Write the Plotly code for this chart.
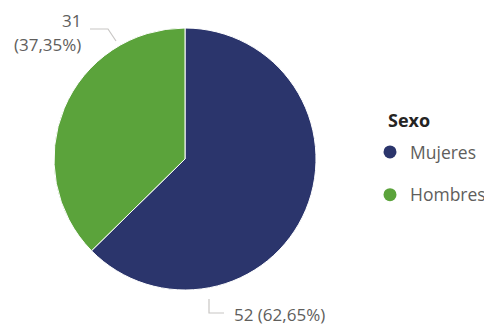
import plotly.graph_objects as go

labels = ["Mujeres", "Hombres"]
values = [52, 31]
colors = ["#2b356c", "#5ba33b"]
legend_title = "Sexo"

# The page body keeps an 8 px margin, so the figure is 8 px smaller each way
# and reference pixel positions are shifted by 8 px.
OFF = 8
W, H = 492 - OFF, 329 - OFF
def px(x, y):
    return (x - OFF) / W, 1 - (y - OFF) / H

total = sum(values)
pct = [v / total * 100 for v in values]
fmt = lambda p: f"{p:.2f}".replace(".", ",")

fig = go.Figure()
x0, y0 = px(54, 298)
x1, y1 = px(316, 20)
fig.add_trace(go.Pie(
    labels=labels, values=values, sort=False, direction="clockwise", rotation=0,
    marker=dict(colors=colors, line=dict(color="white", width=1)),
    textinfo="none", showlegend=False, hoverinfo="label+value+percent",
    domain=dict(x=[x0, x1], y=[y0, y1]),
))
for lab, col in zip(labels, colors):
    fig.add_trace(go.Scatter(
        x=[None], y=[None], mode="markers", name=lab, legendgroup=lab,
        marker=dict(color=col, size=13, symbol="circle"),
    ))

lab_font = dict(family="Open Sans", size=17, color="#605e5c")
annots = []
x, y = px(83, 20)
annots.append(dict(x=x, y=y, xref="paper", yref="paper", text=str(values[1]),
                   xanchor="right", yanchor="middle", showarrow=False, font=lab_font))
x, y = px(83, 44)
annots.append(dict(x=x, y=y, xref="paper", yref="paper", text=f"({fmt(pct[1])}%)",
                   xanchor="right", yanchor="middle", showarrow=False, font=lab_font))
x, y = px(232, 314)
annots.append(dict(x=x, y=y, xref="paper", yref="paper", text=f"{values[0]} ({fmt(pct[0])}%)",
                   xanchor="left", yanchor="middle", showarrow=False, font=lab_font))
x, y = px(386, 120)
annots.append(dict(x=x, y=y, xref="paper", yref="paper", text=f"<b>{legend_title}</b>",
                   xanchor="left", yanchor="middle", showarrow=False,
                   font=dict(family="Open Sans", size=18, color="#252423")))

def path(pts):
    s = ""
    for i, (a, b) in enumerate(pts):
        xx, yy = px(a, b)
        s += ("M" if i == 0 else "L") + f"{xx},{yy} "
    return s.strip()

shapes = [
    dict(type="path", xref="paper", yref="paper", path=path([(90, 29), (108, 29), (116, 41)]),
         line=dict(color="#c8c6c4", width=1.2)),
    dict(type="path", xref="paper", yref="paper", path=path([(209, 299), (209, 313), (224, 313)]),
         line=dict(color="#c8c6c4", width=1.2)),
]

lx, ly = px(370, 134)
fig.update_layout(
    width=W, height=H, margin=dict(l=0, r=0, t=0, b=0),
    paper_bgcolor="white", plot_bgcolor="white",
    xaxis=dict(visible=False), yaxis=dict(visible=False),
    annotations=annots, shapes=shapes,
    legend=dict(
        font=dict(family="Open Sans", size=17.5, color="#605e5c"),
        x=lx, y=ly, xanchor="left", yanchor="top", tracegroupgap=17,
        itemwidth=30, bgcolor="rgba(0,0,0,0)",
    ),
)
fig.write_html("out.html")
